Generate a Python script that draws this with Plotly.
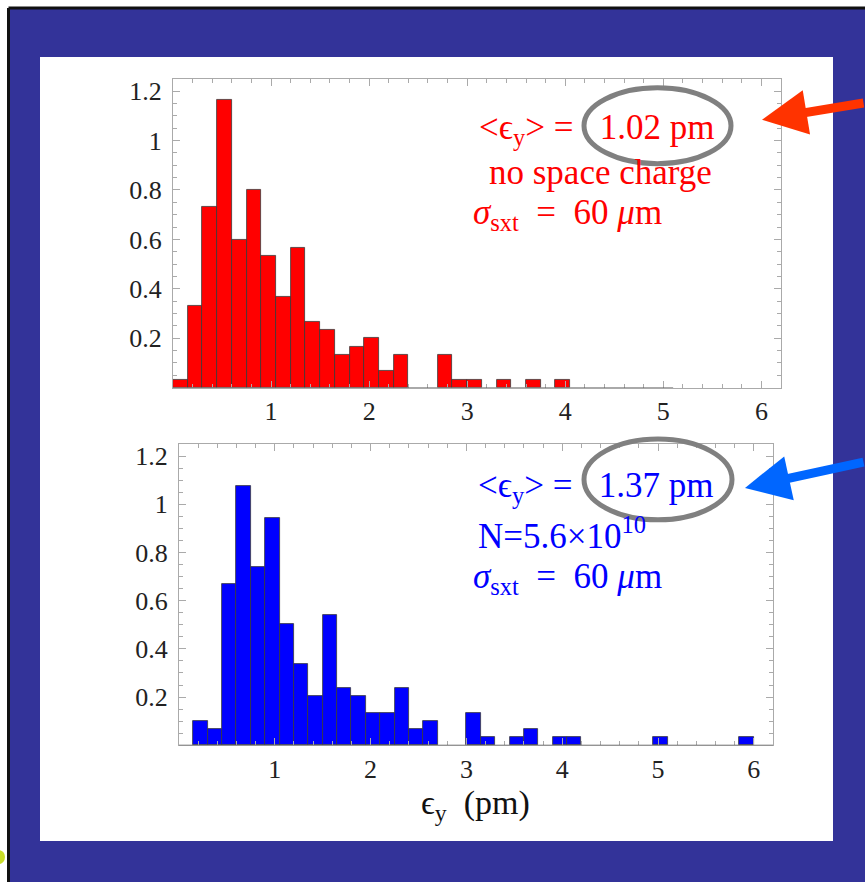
import plotly.graph_objects as go

W, H = 865, 882

# ---------------- data ----------------
bin_width = 0.15

# top histogram (no space charge) : left edges of non-empty bins and densities
top_bin_left = [0.00, 0.15, 0.30, 0.45, 0.60, 0.75, 0.90, 1.05, 1.20, 1.35, 1.50,
                1.65, 1.80, 1.95, 2.10, 2.25, 2.70, 2.85, 3.00, 3.30, 3.60, 3.90]
top_density = [0.033, 0.333, 0.733, 1.167, 0.600, 0.800, 0.533, 0.367, 0.567, 0.267, 0.233,
               0.133, 0.167, 0.200, 0.067, 0.133, 0.133, 0.033, 0.033, 0.033, 0.033, 0.033]

# bottom histogram (N = 5.6e10)
bot_bin_left = [0.15, 0.30, 0.45, 0.60, 0.75, 0.90, 1.05, 1.20, 1.35, 1.50, 1.65,
                1.80, 1.95, 2.10, 2.25, 2.40, 2.55, 3.00, 3.15, 3.45, 3.60, 3.90,
                4.05, 4.95, 5.85]
bot_density = [0.100, 0.067, 0.670, 1.077, 0.740, 0.945, 0.505, 0.337, 0.203, 0.540, 0.237,
               0.203, 0.133, 0.133, 0.237, 0.067, 0.100, 0.133, 0.033, 0.033, 0.067, 0.033,
               0.033, 0.033, 0.033]

x_ticks = [1, 2, 3, 4, 5, 6]
x_tick_text = ["1", "2", "3", "4", "5", "6"]
y_ticks = [0.2, 0.4, 0.6, 0.8, 1.0, 1.2]
y_tick_text = ["0.2", "0.4", "0.6", "0.8", "1", "1.2"]

top_labels = ["&lt;ϵ<sub>y</sub>&gt;&nbsp;=&nbsp;&nbsp;&nbsp;1.02 pm",
              "no space charge",
              "<i>σ</i><sub>sxt</sub>&nbsp; =&nbsp; 60 <i>μ</i>m"]
bot_labels = ["&lt;ϵ<sub>y</sub>&gt;&nbsp;=&nbsp;&nbsp;&nbsp;1.37 pm",
              "N=5.6×10<sup>10</sup>",
              "<i>σ</i><sub>sxt</sub>&nbsp; =&nbsp; 60 <i>μ</i>m"]
x_title = "ϵ<sub>y</sub>  (pm)"

# ---------------- helpers ----------------
def px(x):
    return x / W

def py(y):
    return 1 - y / H

SERIF = "Liberation Serif, Times New Roman, DejaVu Serif, serif"
BLUE_BG = "#333399"
FRAME = "#aaaaaa"

fig = go.Figure()

fig.add_trace(go.Bar(
    x=[l + bin_width / 2 for l in top_bin_left], y=top_density, width=bin_width,
    marker=dict(color="#ff0000", line=dict(color="#3a3a3a", width=0.8)),
    xaxis="x", yaxis="y", showlegend=False, hoverinfo="x+y"))

fig.add_trace(go.Bar(
    x=[l + bin_width / 2 for l in bot_bin_left], y=bot_density, width=bin_width,
    marker=dict(color="#0000ff", line=dict(color="#3a3a3a", width=0.8)),
    xaxis="x2", yaxis="y2", showlegend=False, hoverinfo="x+y"))

def xaxis_style(domain, anchor):
    return dict(domain=domain, anchor=anchor, range=[0, 6.2],
                tickvals=x_ticks, ticktext=x_tick_text,
                ticks="inside", ticklen=7, tickcolor=FRAME, tickwidth=1,
                minor=dict(dtick=0.2, tick0=0, ticks="inside", ticklen=4,
                           tickcolor=FRAME, tickwidth=1),
                showline=True, linecolor=FRAME, linewidth=1, mirror="ticks",
                showgrid=False, zeroline=False,
                tickfont=dict(family=SERIF, size=26, color="#222222"),
                fixedrange=True)

def yaxis_style(domain, anchor):
    return dict(domain=domain, anchor=anchor, range=[0, 1.25],
                tickvals=y_ticks, ticktext=y_tick_text,
                ticks="inside", ticklen=7, tickcolor=FRAME, tickwidth=1,
                minor=dict(dtick=0.05, tick0=0, ticks="inside", ticklen=4,
                           tickcolor=FRAME, tickwidth=1),
                showline=True, linecolor=FRAME, linewidth=1, mirror="ticks",
                showgrid=False, zeroline=False,
                tickfont=dict(family=SERIF, size=26, color="#222222"),
                ticklabelstandoff=5,
                fixedrange=True)

shapes = [
    # outer blue slide background
    dict(type="rect", xref="paper", yref="paper", x0=px(9), x1=px(W + 5), y0=py(H + 5), y1=py(6),
         fillcolor=BLUE_BG, line=dict(width=0), layer="below"),
    # black border lines
    dict(type="line", xref="paper", yref="paper", x0=px(8.5), x1=px(W + 5), y0=py(6), y1=py(6),
         line=dict(color="#111111", width=3), layer="below"),
    dict(type="line", xref="paper", yref="paper", x0=px(8.5), x1=px(8.5), y0=py(6), y1=py(H + 5),
         line=dict(color="#111111", width=3), layer="below"),
    # white panel
    dict(type="rect", xref="paper", yref="paper", x0=px(40), x1=px(833), y0=py(841), y1=py(55),
         fillcolor="white", line=dict(width=0), layer="below"),
    # yellow blob at left edge
    dict(type="circle", xref="paper", yref="paper", x0=px(-7), x1=px(5), y0=py(864), y1=py(850),
         fillcolor="#c8dc28", line=dict(width=0), layer="below"),
    # dark baseline of histograms
    dict(type="line", xref="x", yref="y", x0=0, x1=5.1, y0=0, y1=0,
         line=dict(color="#555555", width=1.2)),
    dict(type="line", xref="x2", yref="y2", x0=0, x1=6.2, y0=0, y1=0,
         line=dict(color="#555555", width=1.2)),
    # gray ellipses around mean values
    dict(type="circle", xref="paper", yref="paper", x0=px(584), x1=px(731), y0=py(162), y1=py(86),
         line=dict(color="#808080", width=5), fillcolor="rgba(0,0,0,0)"),
    dict(type="circle", xref="paper", yref="paper", x0=px(584), x1=px(732), y0=py(519), y1=py(438),
         line=dict(color="#808080", width=5), fillcolor="rgba(0,0,0,0)"),
]

annotations = []
for txt, xpos, ypos in zip(top_labels, [477, 487, 471], [128, 171, 213]):
    annotations.append(dict(xref="paper", yref="paper", x=px(xpos), y=py(ypos),
                            xanchor="left", yanchor="middle", showarrow=False,
                            text=txt, font=dict(family=SERIF, size=35, color="#ff0000")))
for txt, xpos, ypos in zip(bot_labels, [476, 476, 471], [487, 533, 578]):
    annotations.append(dict(xref="paper", yref="paper", x=px(xpos), y=py(ypos),
                            xanchor="left", yanchor="middle", showarrow=False,
                            text=txt, font=dict(family=SERIF, size=35, color="#0000ff")))

annotations.append(dict(xref="paper", yref="paper", x=px(475), y=py(805),
                        xanchor="center", yanchor="middle", showarrow=False,
                        text=x_title, font=dict(family=SERIF, size=34, color="#111111")))

# arrows
annotations.append(dict(xref="paper", yref="paper", x=px(762), y=py(118),
                        axref="pixel", ayref="pixel", ax=130, ay=-17, text="",
                        showarrow=True, arrowhead=2, arrowsize=1.0, arrowwidth=9,
                        arrowcolor="#ff3300"))
annotations.append(dict(xref="paper", yref="paper", x=px(745), y=py(487),
                        axref="pixel", ayref="pixel", ax=130, ay=-26, text="",
                        showarrow=True, arrowhead=2, arrowsize=1.0, arrowwidth=9,
                        arrowcolor="#0066ff"))

fig.update_layout(
    width=W, height=H,
    margin=dict(l=0, r=0, t=0, b=0),
    paper_bgcolor="white",
    plot_bgcolor="white",
    xaxis=xaxis_style([px(173), px(781)], "y"),
    yaxis=yaxis_style([py(386.5), py(77)], "x"),
    xaxis2=xaxis_style([px(179), px(773)], "y2"),
    yaxis2=yaxis_style([py(745), py(443)], "x2"),
    shapes=shapes,
    annotations=annotations,
    bargap=0,
    showlegend=False,
)

fig.write_html("out.html")
